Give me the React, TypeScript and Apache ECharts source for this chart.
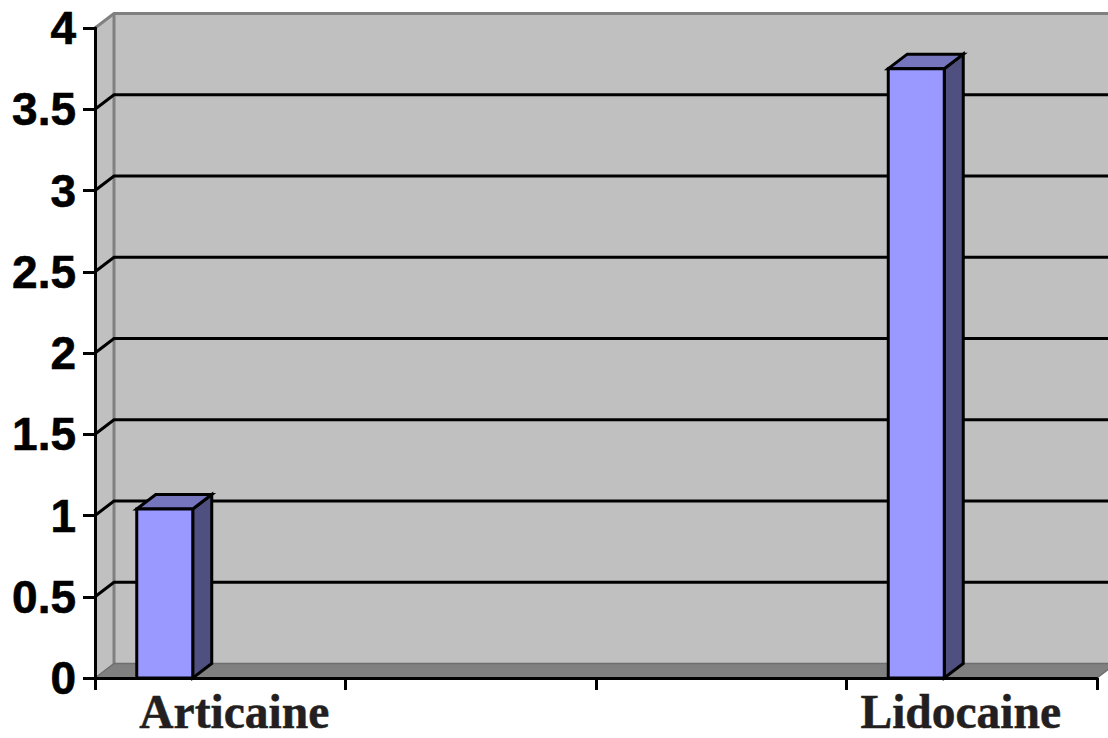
import React, { useEffect, useRef } from "react";
import * as echarts from "echarts";

const categories = ["Articaine", "", "", "Lidocaine"];
const seriesValues = [1.04, null, null, 3.75];
const gridValues = [0.5, 1, 1.5, 2, 2.5, 3, 3.5];

const DX = 19;
const DY = -14.5;
const BAR_FRACTION = 56 / 250.5;
const BAR_SHIFT = -55.5 / 250.5;

const INK = "#000000";
const LINE = 3;

function wallItem(params: any) {
  const { x, y, width, height } = params.coordSys;
  const b = y + height;
  const r = x + width;
  return {
    type: "group",
    children: [
      { type: "polygon", shape: { points: [[x + DX, y + DY], [r + DX, y + DY], [r + DX, b + DY], [x + DX, b + DY]] }, style: { fill: "#c0c0c0", stroke: "none" } },
      { type: "polygon", shape: { points: [[x, y], [x + DX, y + DY], [x + DX, b + DY], [x, b]] }, style: { fill: "#c0c0c0", stroke: "none" } },
      { type: "polygon", shape: { points: [[x, b], [x + DX, b + DY], [r + DX, b + DY], [r, b]] }, style: { fill: "#808080", stroke: "none" } },
      { type: "polyline", shape: { points: [[x, y], [x + DX, y + DY], [r + DX, y + DY]] }, style: { fill: "none", stroke: "#808080", lineWidth: LINE } },
      { type: "polyline", shape: { points: [[x + DX, y + DY], [x + DX, b + DY]] }, style: { fill: "none", stroke: "#808080", lineWidth: LINE } },
      { type: "polyline", shape: { points: [[x, b], [x + DX, b + DY], [r + DX, b + DY], [r, b]] }, style: { fill: "none", stroke: "#6e6e6e", lineWidth: 1.5 } },
    ],
  };
}

function gridItem(params: any, api: any) {
  const p = api.coord([0, api.value(0)]);
  const { x, width } = params.coordSys;
  const y = p[1];
  return {
    type: "polyline",
    shape: { points: [[x, y], [x + DX, y + DY], [x + width + DX, y + DY]] },
    style: { fill: "none", stroke: INK, lineWidth: LINE },
  };
}

function barItem(_params: any, api: any) {
  const idx = api.value(0);
  const val = api.value(1);
  const top = api.coord([idx, val]);
  const base = api.coord([idx, 0]);
  const band = api.size([1, 0])[0];
  const w = band * BAR_FRACTION;
  const l = top[0] + band * BAR_SHIFT - w / 2;
  const r = l + w;
  const t = top[1];
  const b = base[1];
  const stroke = { stroke: INK, lineWidth: LINE, lineJoin: "miter" };
  return {
    type: "group",
    children: [
      { type: "polygon", shape: { points: [[r, t], [r + DX, t + DY], [r + DX, b + DY], [r, b]] }, style: { fill: "#4f4f80", ...stroke } },
      { type: "polygon", shape: { points: [[l, t], [l + DX, t + DY], [r + DX, t + DY], [r, t]] }, style: { fill: "#7676bf", ...stroke } },
      { type: "rect", shape: { x: l, y: t, width: w, height: b - t }, style: { fill: "#9999ff", ...stroke } },
    ],
  };
}

export default function App() {
  const ref = useRef<HTMLDivElement>(null);
  useEffect(() => {
    document.body.style.margin = "0";
    const chart = echarts.init(ref.current!, undefined, { renderer: "svg" });
    const catFont = {
      fontFamily: "Liberation Serif",
      fontWeight: "bold" as const,
      fontSize: 47.5,
      color: "#231f20",
      textBorderColor: "#231f20",
      textBorderWidth: 0.5,
    };
    chart.setOption({
      animation: false,
      backgroundColor: "#ffffff",
      grid: { left: 95, right: 11, top: 28, bottom: 60, containLabel: false },
      xAxis: {
        type: "category",
        data: categories,
        boundaryGap: true,
        z: 10,
        axisLine: { show: true, lineStyle: { color: INK, width: LINE } },
        axisTick: { show: true, alignWithLabel: false, interval: 0, length: 12, lineStyle: { color: INK, width: LINE } },
        axisLabel: {
          show: true,
          interval: 0,
          hideOverlap: false,
          margin: 10,
          formatter: (v: string) => (v === "Articaine" ? `{a|${v}}` : v === "Lidocaine" ? `{b|${v}}` : ""),
          rich: {
            a: { ...catFont, padding: [0, 0, 0, 28] },
            b: { ...catFont, padding: [0, 22, 0, 0] },
          },
        },
        splitLine: { show: false },
      },
      yAxis: {
        type: "value",
        min: 0,
        max: 4,
        interval: 0.5,
        z: 10,
        axisLine: { show: true, lineStyle: { color: INK, width: LINE } },
        axisTick: { show: true, length: 12, lineStyle: { color: INK, width: LINE } },
        axisLabel: {
          show: true,
          margin: 19,
          fontFamily: "Liberation Sans",
          fontWeight: "bold",
          fontSize: 46,
          color: INK,
          textBorderColor: INK,
          textBorderWidth: 0.6,
          showMinLabel: true,
          showMaxLabel: true,
        },
        splitLine: { show: false },
      },
      series: [
        { type: "custom", name: "walls", z: 1, silent: true, clip: false, data: [[0]], renderItem: wallItem },
        { type: "custom", name: "grid", z: 2, silent: true, clip: false, data: gridValues.map((v) => [v]), encode: { y: 0 }, renderItem: gridItem },
        {
          type: "custom",
          name: "bars",
          z: 3,
          silent: true,
          clip: false,
          encode: { x: 0, y: 1 },
          data: seriesValues.map((v, i) => (v === null ? null : [i, v])).filter(Boolean),
          renderItem: barItem,
        },
      ],
    });
    return () => chart.dispose();
  }, []);
  return <div ref={ref} style={{ position: "fixed", left: 0, top: 0, width: 1108, height: 738 }} />;
}
